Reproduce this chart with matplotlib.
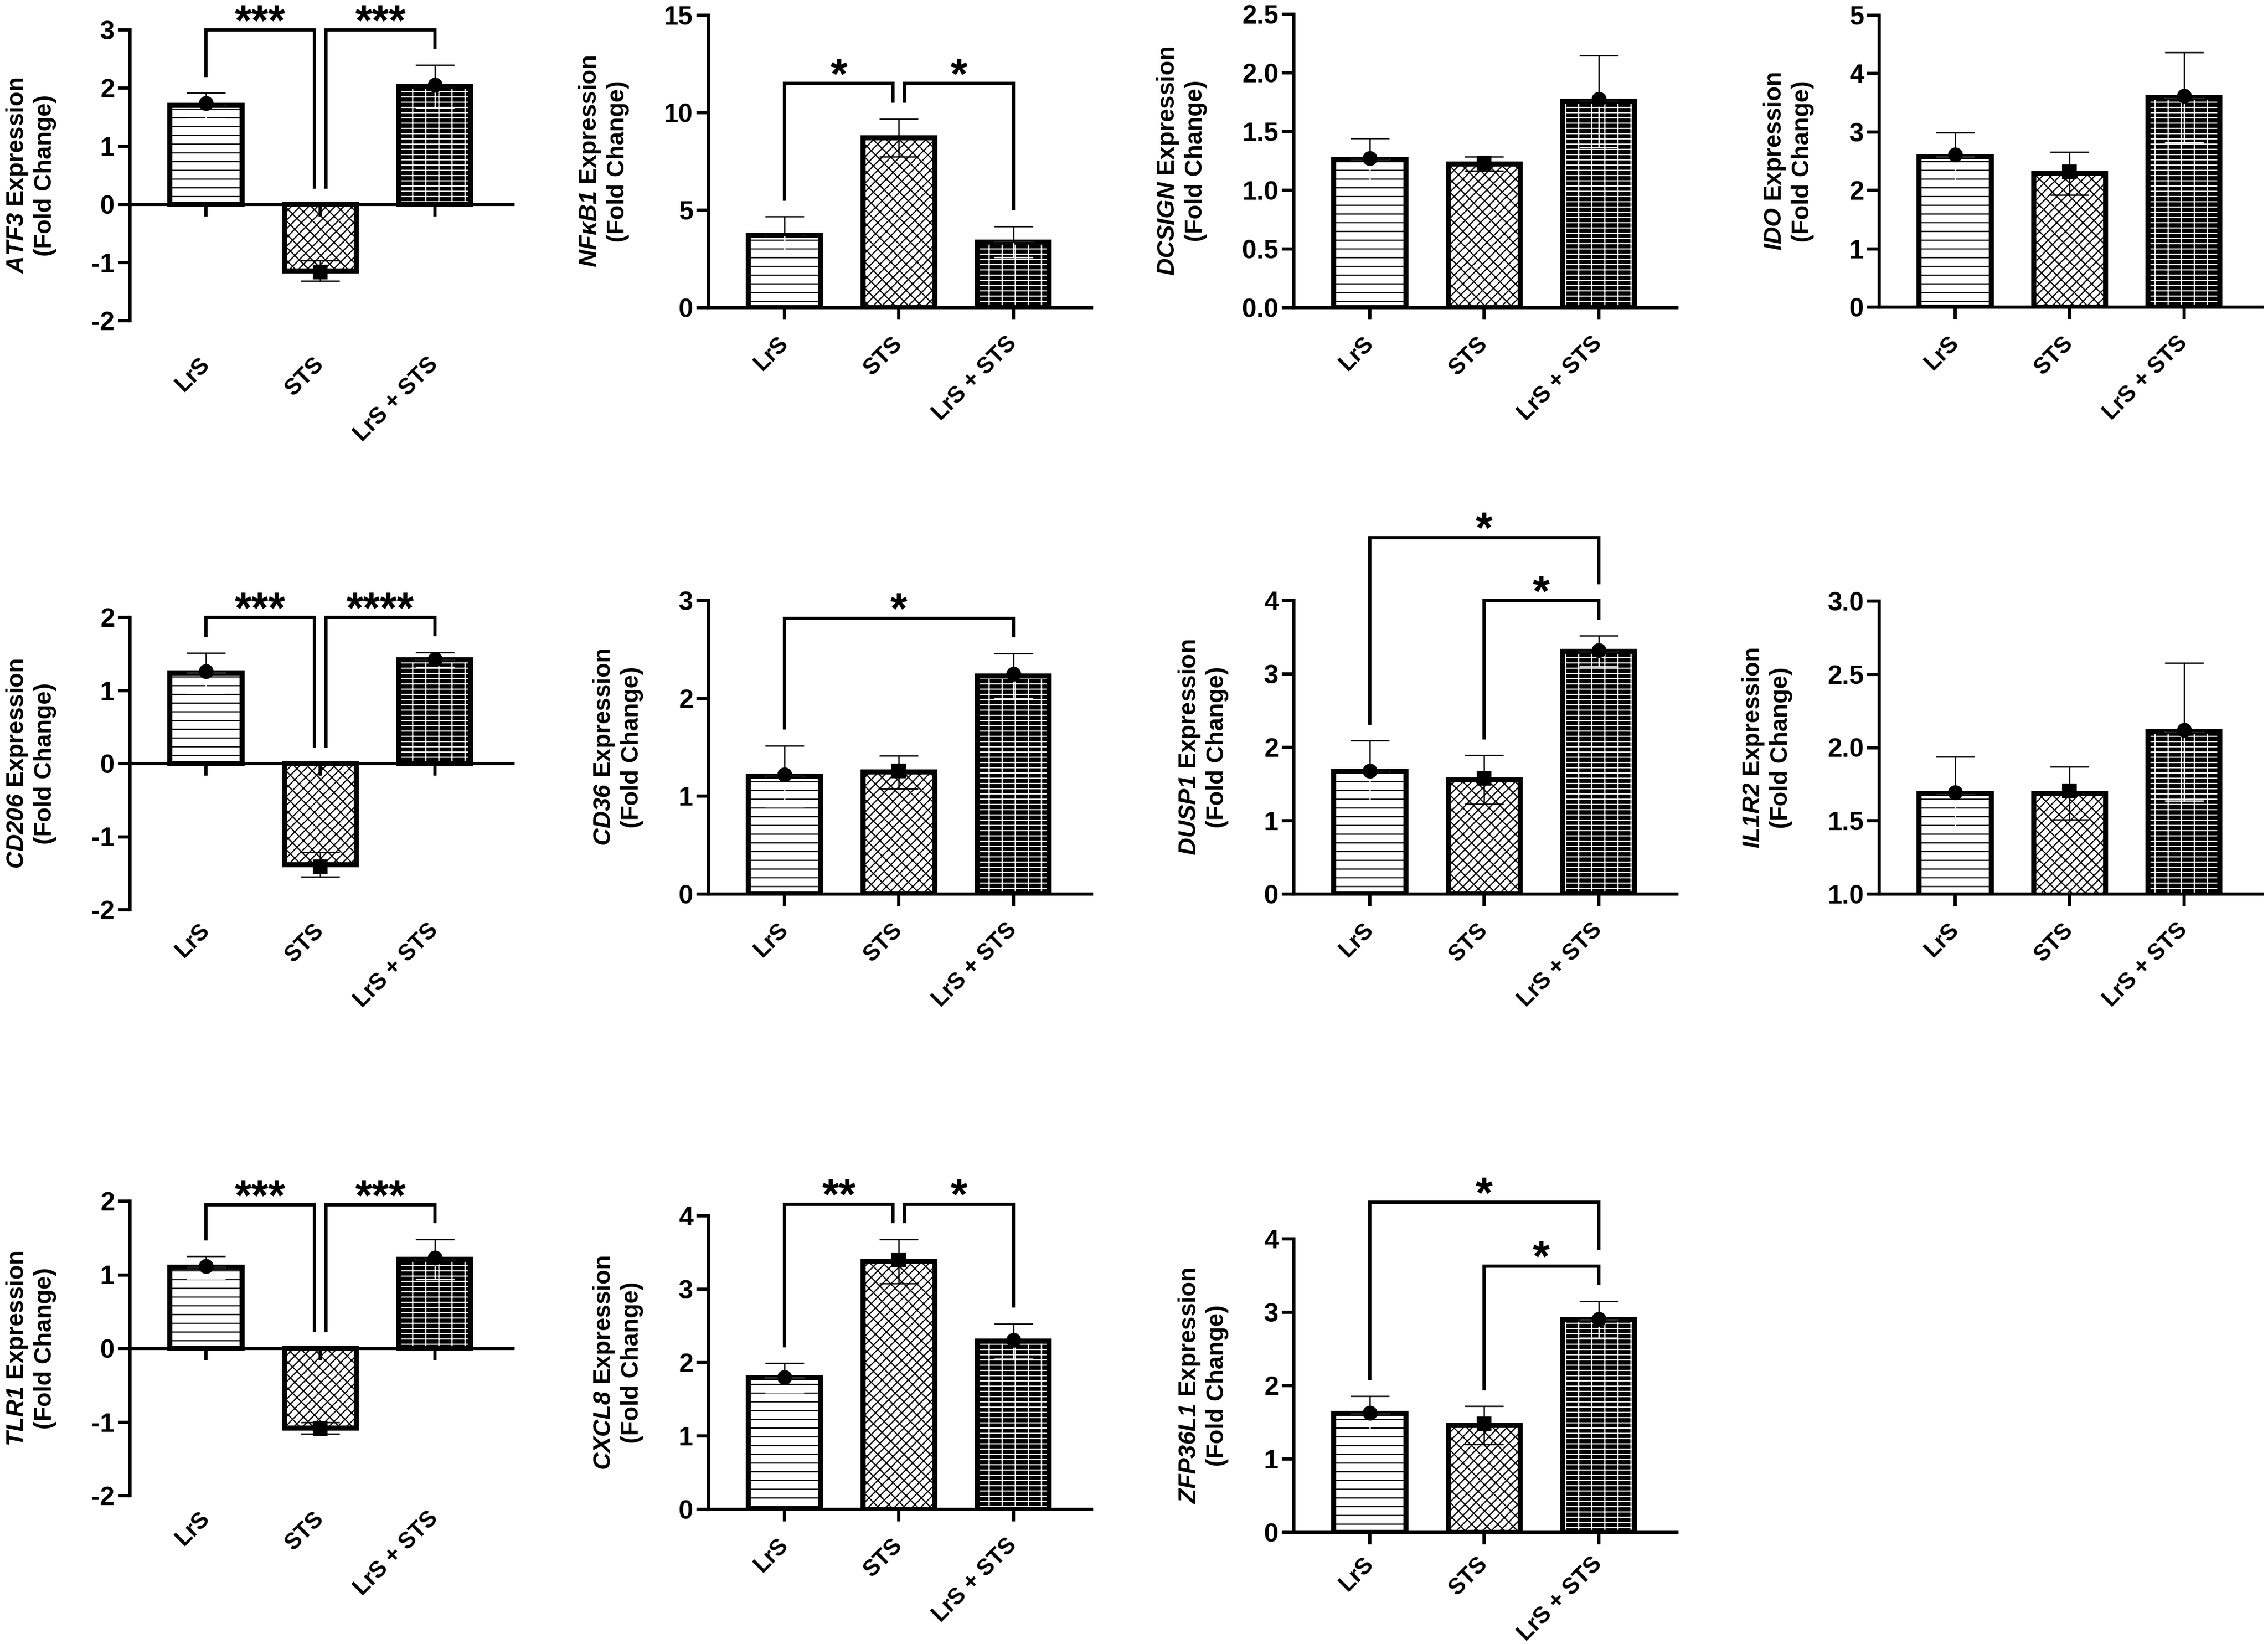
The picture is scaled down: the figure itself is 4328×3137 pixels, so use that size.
import numpy as np
import matplotlib
matplotlib.use('Agg')
import matplotlib.pyplot as plt
from matplotlib.ticker import FormatStrFormatter

plt.rcParams['font.family'] = ['Liberation Sans', 'DejaVu Sans']
plt.rcParams['font.weight'] = 'bold'
plt.rcParams['mathtext.fontset'] = 'custom'
plt.rcParams['mathtext.it'] = 'Liberation Sans:italic:bold'
plt.rcParams['mathtext.rm'] = 'Liberation Sans:italic:bold'
plt.rcParams['mathtext.bf'] = 'Liberation Sans:italic:bold'
plt.rcParams['axes.unicode_minus'] = False
plt.rcParams['hatch.linewidth'] = 0.55

# groups
groups = ['LrS', 'STS', 'LrS + STS']

# values: bar mean, error (SEM), single data point
atf3_mean = [1.70, -1.14, 2.03]
atf3_err = [0.22, 0.175, 0.37]
atf3_pt = [1.74, -1.16, 2.05]
atf3_sig = [(0, 1, 3.0, '***'), (1, 2, 3.0, '***')]

nfkb1_mean = [3.71, 8.72, 3.37]
nfkb1_err = [0.96, 0.97, 0.80]
nfkb1_pt = None
nfkb1_sig = [(0, 1, 11.5, '*'), (1, 2, 11.5, '*')]

dcsign_mean = [1.262, 1.224, 1.757]
dcsign_err = [0.18, 0.06, 0.39]
dcsign_pt = [1.271, 1.231, 1.776]
dcsign_sig = []

ido_mean = [2.58, 2.29, 3.59]
ido_err = [0.41, 0.37, 0.77]
ido_pt = [2.61, 2.32, 3.62]
ido_sig = []

cd206_mean = [1.24, -1.38, 1.42]
cd206_err = [0.27, 0.17, 0.10]
cd206_pt = [1.26, -1.41, 1.43]
cd206_sig = [(0, 1, 2.0, '***'), (1, 2, 2.0, '****')]

cd36_mean = [1.206, 1.246, 2.23]
cd36_err = [0.31, 0.17, 0.23]
cd36_pt = [1.22, 1.26, 2.25]
cd36_sig = [(0, 2, 2.82, '*')]

dusp1_mean = [1.67, 1.56, 3.31]
dusp1_err = [0.42, 0.33, 0.21]
dusp1_pt = [1.68, 1.58, 3.32]
dusp1_sig = [(0, 2, 4.86, '*'), (1, 2, 4.0, '*')]

il1r2_mean = [1.688, 1.688, 2.108]
il1r2_err = [0.25, 0.18, 0.47]
il1r2_pt = [1.695, 1.705, 2.12]
il1r2_sig = []

tlr1_mean = [1.10, -1.08, 1.21]
tlr1_err = [0.15, 0.08, 0.27]
tlr1_pt = [1.12, -1.09, 1.23]
tlr1_sig = [(0, 1, 1.95, '***'), (1, 2, 1.95, '***')]

cxcl8_mean = [1.79, 3.38, 2.29]
cxcl8_err = [0.20, 0.30, 0.24]
cxcl8_pt = [1.80, 3.40, 2.31]
cxcl8_sig = [(0, 1, 4.16, '**'), (1, 2, 4.16, '*')]

zfp_mean = [1.62, 1.46, 2.90]
zfp_err = [0.24, 0.26, 0.25]
zfp_pt = [1.63, 1.48, 2.91]
zfp_sig = [(0, 2, 4.50, '*'), (1, 2, 3.63, '*')]

panels = [
    ('ATF3', atf3_mean, atf3_err, atf3_pt, atf3_sig, (-2, 3), 1, '%d'),
    (r'NF\kappa B1', nfkb1_mean, nfkb1_err, nfkb1_pt, nfkb1_sig, (0, 15), 5, '%d'),
    ('DCSIGN', dcsign_mean, dcsign_err, dcsign_pt, dcsign_sig, (0, 2.5), 0.5, '%.1f'),
    ('IDO', ido_mean, ido_err, ido_pt, ido_sig, (0, 5), 1, '%d'),
    ('CD206', cd206_mean, cd206_err, cd206_pt, cd206_sig, (-2, 2), 1, '%d'),
    ('CD36', cd36_mean, cd36_err, cd36_pt, cd36_sig, (0, 3), 1, '%d'),
    ('DUSP1', dusp1_mean, dusp1_err, dusp1_pt, dusp1_sig, (0, 4), 1, '%d'),
    ('IL1R2', il1r2_mean, il1r2_err, il1r2_pt, il1r2_sig, (1, 3), 0.5, '%.1f'),
    ('TLR1', tlr1_mean, tlr1_err, tlr1_pt, tlr1_sig, (-2, 2), 1, '%d'),
    ('CXCL8', cxcl8_mean, cxcl8_err, cxcl8_pt, cxcl8_sig, (0, 4), 1, '%d'),
    ('ZFP36L1', zfp_mean, zfp_err, zfp_pt, zfp_sig, (0, 4), 1, '%d'),
]

# layout in output pixels: axes left, top, bottom ; plus x-label offset (pt)
W, H = 4328, 3137
AX_W = 731
boxes = [(248, 57, 612), (1352, 29, 587), (2469, 27, 587), (3586, 29, 586),
         (248, 1178, 1736), (1352, 1146, 1706), (2469, 1146, 1706), (3586, 1147, 1706),
         (248, 2292, 2854), (1352, 2320, 2880), (2469, 2364, 2924)]
label_pads = [18.5, 15, 15, 15, 8, 15, 15, 15, 9, 15, 13]

# group styles
faces = ['white', 'white', 'black']
hatch_cols = ['black', 'black', 'white']
hatches = ['---', '//////\\\\\\\\', '-----||']
markers = ['o', 's', 'o']
inner_cols = ['white', 'black', 'white']

BAR_W = 0.63
FS = 11
XFS = 10.5


def draw(ax, gene, mean, err, pts, sig, ylim, step, fmt, lab_pad):
    x = np.arange(len(groups))
    lo, hi = ylim
    span = hi - lo
    for i in range(len(groups)):
        ax.bar(x[i], mean[i], width=BAR_W, color=faces[i], edgecolor=hatch_cols[i],
               hatch=hatches[i], linewidth=0, zorder=1)
        ax.bar(x[i], mean[i], width=BAR_W, fill=False, edgecolor='black',
               linewidth=2.3, zorder=1.1)
        up = mean[i] >= 0
        outer = [[0], [err[i]]] if up else [[err[i]], [0]]
        inner = [[err[i]], [0]] if up else [[0], [err[i]]]
        ax.errorbar(x[i], mean[i], yerr=inner, color=inner_cols[i], elinewidth=0.6,
                    capsize=8.8, capthick=0.6, zorder=2.6)
        ax.errorbar(x[i], mean[i], yerr=outer, color='black', elinewidth=0.6,
                    capsize=8.8, capthick=0.6, zorder=3)
        if pts is not None:
            ax.plot(x[i], pts[i], marker=markers[i], ms=5.8, color='black',
                    linestyle='none', zorder=4)

    ax.set_xlim(-0.665, 2.685)
    ax.set_ylim(lo, hi)
    ax.set_yticks(np.arange(lo, hi + step / 2, step))
    ax.yaxis.set_major_formatter(FormatStrFormatter(fmt))
    ax.set_xticks(x)
    ax.tick_params(axis='x', labelbottom=False)
    ax.tick_params(direction='out', length=5.5, width=1.5, labelsize=12, pad=1.5)
    for s in ('top', 'right'):
        ax.spines[s].set_visible(False)
    for s in ('left', 'bottom'):
        ax.spines[s].set_linewidth(1.5)
    if lo < 0:
        ax.spines['bottom'].set_position(('data', 0))

    for i, g in enumerate(groups):
        ax.annotate(g, xy=(x[i], 0), xycoords=ax.get_xaxis_transform(),
                    xytext=(0, -lab_pad), textcoords='offset points', rotation=45,
                    ha='right', va='center', rotation_mode='anchor', fontsize=XFS,
                    fontweight='bold', annotation_clip=False)

    ax.set_ylabel('$\\mathit{' + gene + '}$ Expression\n(Fold Change)',
                  fontsize=FS, fontweight='bold', labelpad=16)

    # significance brackets
    gap = 0.06 * span
    for (a, b, yb, star) in sig:
        xa, xb = float(x[a]), float(x[b])
        for (c, d, yc, _) in sig:
            if yc == yb and (c, d) != (a, b):
                if d == a:
                    xa += 0.05
                if c == b:
                    xb -= 0.05

        def leg_bottom(i):
            base = mean[i] + err[i] if mean[i] >= 0 else 0.0
            for (c, d, yc, _) in sig:
                if yc < yb and c <= i <= d:
                    base = max(base, yc)
            return base + gap

        ax.plot([xa, xa, xb, xb], [leg_bottom(a), yb, yb, leg_bottom(b)],
                color='black', lw=1.5, clip_on=False, solid_joinstyle='miter',
                zorder=5)
        ax.annotate(star, xy=((xa + xb) / 2, yb), xytext=(0, -2.5),
                    textcoords='offset points', ha='center', va='baseline',
                    fontsize=20, fontweight='bold', annotation_clip=False)


fig = plt.figure(figsize=(W / 300, H / 300), dpi=300)
for (gene, mean, err, pts, sig, ylim, step, fmt), (l, t, b), pad in zip(panels, boxes, label_pads):
    ax = fig.add_axes([l / W, 1 - b / H, AX_W / W, (b - t) / H])
    draw(ax, gene, mean, err, pts, sig, ylim, step, fmt, pad)

fig.savefig('out.png', dpi=300, facecolor='white')
